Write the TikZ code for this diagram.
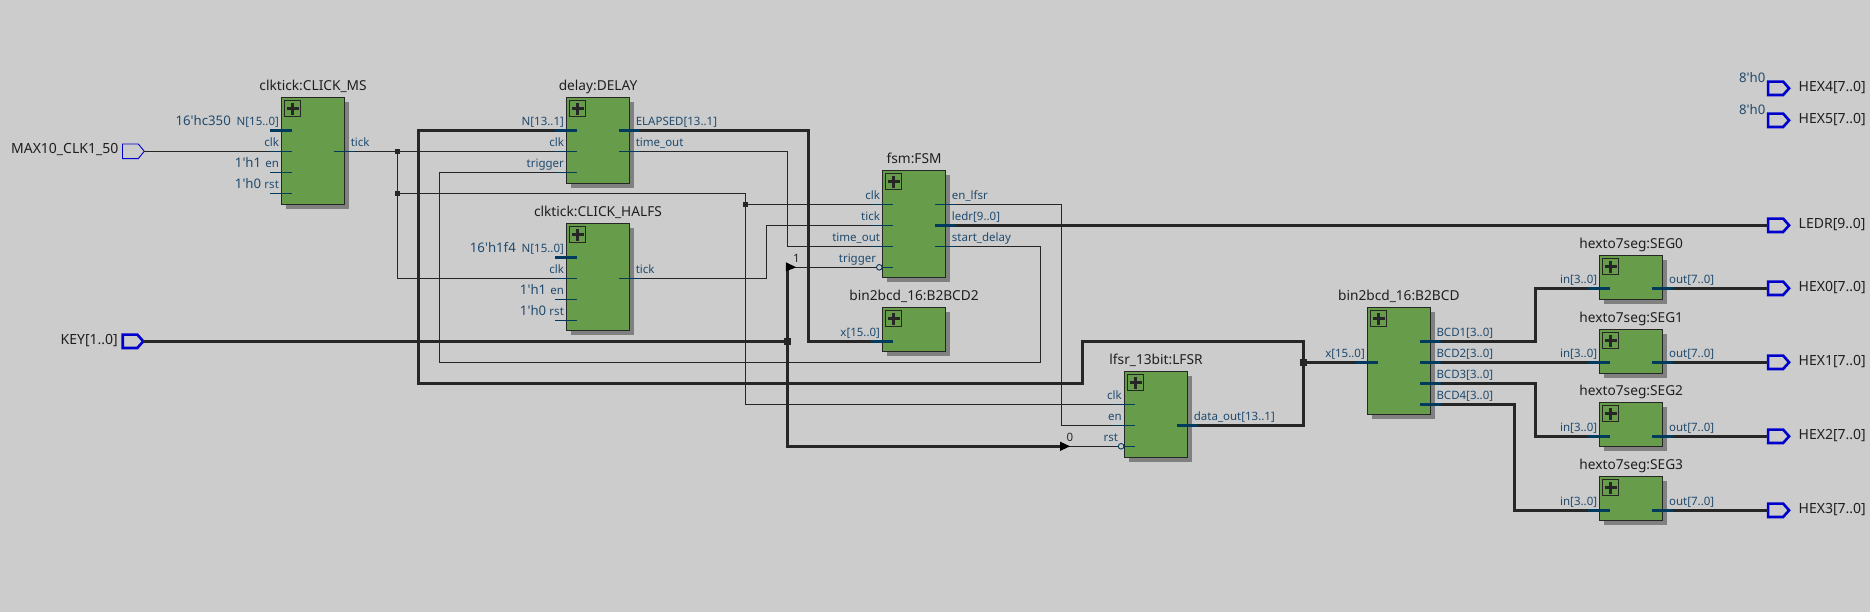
\documentclass[tikz,border=0pt]{standalone}
\usepackage{fontspec}
\newfontfamily\qf{Noto Sans}
\usetikzlibrary{calc}
\definecolor{bgc}{HTML}{CCCCCC}
\definecolor{grn}{HTML}{669C4A}
\definecolor{shd}{HTML}{808080}
\definecolor{wirec}{HTML}{262626}
\definecolor{pinc}{HTML}{003A5C}
\definecolor{labc}{HTML}{1F4A6E}
\definecolor{portc}{HTML}{0000CC}
\tikzset{
  x=1pt,y=-1pt,
  shadowbox/.style={fill=shd,draw=none},
  blockbox/.style={draw=wirec,line width=1pt,fill=grn,inner sep=0pt,outer sep=0pt,anchor=north west},
  iconbox/.style={draw=wirec,line width=1pt,minimum size=16pt,inner sep=0pt,outer sep=0pt},
  pluslines/.style={draw=wirec,line width=3pt},
  namelab/.style={font=\qf\fontsize{13.7}{15}\selectfont,text=black!88,inner sep=0pt,anchor=base},
  pinlab/.style={font=\qf\fontsize{11.5}{13}\selectfont,text=labc,inner sep=0pt},
  vallab/.style={font=\qf\fontsize{13.2}{15}\selectfont,text=labc,inner sep=0pt,anchor=base east},
  portlab/.style={font=\qf\fontsize{14}{16}\selectfont,text=black!88,inner sep=0pt},
  constlab/.style={font=\qf\fontsize{11.5}{13}\selectfont,text=black!85,inner sep=0pt,anchor=base},
  thinw/.style={draw=wirec,line width=0.9pt},
  thickw/.style={draw=wirec,line width=2.8pt},
  thinstub/.style={draw=pinc,line width=0.9pt},
  busstub/.style={draw=pinc,line width=2.8pt},
  bubble/.style={circle,draw=pinc,line width=0.9pt,fill=bgc,minimum size=5.6pt,inner sep=0pt,outer sep=0pt},
  jthin/.style={rectangle,fill=wirec,minimum size=5pt,inner sep=0pt},
  jthick/.style={rectangle,fill=wirec,minimum size=7pt,inner sep=0pt},
  portshape/.style={inner sep=0pt,outer sep=0pt},
  portthin/.style={draw=portc,line width=0.9pt,line join=miter},
  portthick/.style={draw=portc,line width=2.6pt,line join=miter},
}
% id, left, top, width, height, name
\newcommand{\blk}[6]{%
  \pgfmathsetmacro{\curL}{#2}\pgfmathsetmacro{\curR}{#2+#4}%
  \fill[shadowbox] (#2+4.4,#3+4.3) rectangle (#2+#4+4.4,#3+#5+4.3);
  \node[blockbox,minimum width=#4pt,minimum height=#5pt] (#1) at (#2,#3) {};
  \node[namelab] (#1-name) at (#2+#4/2,#3-7) {#6};
  \node[iconbox] (#1-icon) at (#2+11.2,#3+11.5) {};
  \draw[pluslines] ($(#1-icon.center)+(-6,0)$) -- ($(#1-icon.center)+(6,0)$);
  \draw[pluslines] ($(#1-icon.center)+(0,-6)$) -- ($(#1-icon.center)+(0,6)$);
}
% left pin: coordinate id, y, label, stub style
\newcommand{\pinl}[4]{%
  \coordinate (#1) at (\curL-11.2,#2);
  \draw[#4] (#1) -- ++(21.6,0);
  \node[pinlab,anchor=base east] (#1-lab) at (\curL-2.3,#2-4.7) {#3};
}
\newcommand{\pinr}[4]{%
  \coordinate (#1) at (\curR+10.5,#2);
  \draw[#4] (#1) -- ++(-21,0);
  \node[pinlab,anchor=base west] (#1-lab) at (\curR+6,#2-4.7) {#3};
}
% inverted left pin
\newcommand{\pinb}[3]{%
  \node[bubble] (#1) at (\curL-3.2,#2) {};
  \draw[thinstub] (#1.east) -- (\curL+10.4,#2);
  \node[pinlab,anchor=base east] (#1-lab) at (\curL-6.2,#2-4.7) {#3};
}
% output port: id, center y, label, style
\newcommand{\oport}[3]{%
  \node[portshape,minimum width=21pt,minimum height=13.4pt] (#1) at (1778.6,#2) {};
  \draw[portthick] (#1.north west) -- ($(#1.north east)+(-6,0)$) -- (#1.east) -- ($(#1.south east)+(-6,0)$) -- (#1.south west) -- cycle;
  \node[portlab,anchor=base west] (#1-lab) at (1798.5,#2+3) {#3};
}
\begin{document}
\begin{tikzpicture}
\useasboundingbox (0,0) rectangle (1870,612);
\fill[bgc] (0,0) rectangle (1870,612);

% blocks
\blk{ms}{281.4}{97.3}{63.2}{107}{clktick:CLICK\_MS}
\pinl{ms-n}{130.3}{N[15..0]}{busstub}
\pinl{ms-clk}{151.3}{clk}{thinstub}
\pinl{ms-en}{172.3}{en}{thinstub}
\pinl{ms-rst}{193.3}{rst}{thinstub}
\pinr{ms-tick}{151.3}{tick}{thinstub}
\node[vallab] (ms-vn) at (231,125.7) {16'hc350};
\node[vallab] (ms-ven) at (261.4,167.7) {1'h1};
\node[vallab] (ms-vrst) at (261.4,188.7) {1'h0};

\blk{dl}{566.4}{97.3}{63.2}{86}{delay:DELAY}
\pinl{dl-n}{130.3}{N[13..1]}{busstub}
\pinl{dl-clk}{151.3}{clk}{thinstub}
\pinl{dl-trig}{172.3}{trigger}{thinstub}
\pinr{dl-el}{130.3}{ELAPSED[13..1]}{busstub}
\pinr{dl-to}{151.3}{time\_out}{thinstub}

\blk{hf}{566.4}{223.3}{63.2}{107}{clktick:CLICK\_HALFS}
\pinl{hf-n}{257.3}{N[15..0]}{busstub}
\pinl{hf-clk}{278.3}{clk}{thinstub}
\pinl{hf-en}{299.3}{en}{thinstub}
\pinl{hf-rst}{320.3}{rst}{thinstub}
\pinr{hf-tick}{278.3}{tick}{thinstub}
\node[vallab] (hf-vn) at (516,252.7) {16'h1f4};
\node[vallab] (hf-ven) at (546.4,294.7) {1'h1};
\node[vallab] (hf-vrst) at (546.4,315.7) {1'h0};

\blk{fs}{882.5}{170.3}{63.2}{107}{fsm:FSM}
\pinl{fs-clk}{204.3}{clk}{thinstub}
\pinl{fs-tick}{225.3}{tick}{thinstub}
\pinl{fs-to}{246.3}{time\_out}{thinstub}
\pinb{fs-trig}{267.3}{trigger}
\pinr{fs-en}{204.3}{en\_lfsr}{thinstub}
\pinr{fs-ledr}{225.3}{ledr[9..0]}{busstub}
\pinr{fs-sd}{246.3}{start\_delay}{thinstub}

\blk{bb}{882.5}{307.3}{63.2}{44}{bin2bcd\_16:B2BCD2}
\pinl{bb-x}{341.3}{x[15..0]}{busstub}

\blk{lf}{1124.3}{371.3}{63.4}{86}{lfsr\_13bit:LFSR}
\pinl{lf-clk}{404.3}{clk}{thinstub}
\pinl{lf-en}{425.3}{en}{thinstub}
\pinb{lf-rst}{446.3}{rst}
\pinr{lf-do}{425.3}{data\_out[13..1]}{busstub}

\blk{bc}{1367.3}{307.3}{63}{107}{bin2bcd\_16:B2BCD}
\pinl{bc-x}{362.3}{x[15..0]}{busstub}
\pinr{bc-1}{341.3}{BCD1[3..0]}{busstub}
\pinr{bc-2}{362.3}{BCD2[3..0]}{busstub}
\pinr{bc-3}{383.3}{BCD3[3..0]}{busstub}
\pinr{bc-4}{404.3}{BCD4[3..0]}{busstub}

\blk{s0}{1599.6}{255.3}{63.3}{44}{hexto7seg:SEG0}
\pinl{s0-in}{288.3}{in[3..0]}{busstub}
\pinr{s0-out}{288.3}{out[7..0]}{busstub}
\blk{s1}{1599.6}{329.3}{63.3}{44}{hexto7seg:SEG1}
\pinl{s1-in}{362.3}{in[3..0]}{busstub}
\pinr{s1-out}{362.3}{out[7..0]}{busstub}
\blk{s2}{1599.6}{402.3}{63.3}{44}{hexto7seg:SEG2}
\pinl{s2-in}{436.3}{in[3..0]}{busstub}
\pinr{s2-out}{436.3}{out[7..0]}{busstub}
\blk{s3}{1599.6}{476.3}{63.3}{44}{hexto7seg:SEG3}
\pinl{s3-in}{510.3}{in[3..0]}{busstub}
\pinr{s3-out}{510.3}{out[7..0]}{busstub}

% ports
\node[portshape,minimum width=21.8pt,minimum height=14.6pt] (clkp) at (133.4,151.3) {};
\draw[portthin] (clkp.north west) -- ($(clkp.north east)+(-6,0)$) -- (clkp.east) -- ($(clkp.south east)+(-6,0)$) -- (clkp.south west) -- cycle;
\node[portlab,anchor=base east] (clkp-lab) at (118.5,154) {MAX10\_CLK1\_50};
\node[portshape,minimum width=20.6pt,minimum height=13.4pt] (keyp) at (133,341.3) {};
\draw[portthick] (keyp.north west) -- ($(keyp.north east)+(-6,0)$) -- (keyp.east) -- ($(keyp.south east)+(-6,0)$) -- (keyp.south west) -- cycle;
\node[portlab,anchor=base east] (keyp-lab) at (118,344) {KEY[1..0]};

\oport{h4}{88.3}{HEX4[7..0]}
\oport{h5}{120.3}{HEX5[7..0]}
\oport{ledr}{225.3}{LEDR[9..0]}
\oport{h0}{288.3}{HEX0[7..0]}
\oport{h1}{362.3}{HEX1[7..0]}
\oport{h2}{436.3}{HEX2[7..0]}
\oport{h3}{510.3}{HEX3[7..0]}
\node[vallab] (h4-v) at (1765.5,82.3) {8'h0};
\node[vallab] (h5-v) at (1765.5,114.3) {8'h0};

% routing helpers
\coordinate (vel) at (808.6,0);
\coordinate (vto) at (787.3,151.3);
\coordinate (vtk) at (766.4,0);
\coordinate (ven) at (1061.8,0);
\coordinate (vsd) at (1040.7,362.3);
\coordinate (vtr) at (439.3,362.3);
\coordinate (b1) at (1303.7,341.3);
\coordinate (b2) at (1082.3,341.3);
\coordinate (b3) at (1082.3,383.3);
\coordinate (b4) at (418.2,383.3);
\coordinate (v3) at (1535.6,0);
\coordinate (v4) at (1514.5,0);

% junctions
\node[jthin] (j1) at (397.5,151.3) {};
\node[jthin] (j2) at (397.5,193.3) {};
\node[jthin] (j3) at (745.7,204.3) {};
\node[jthick] (j4) at (1303.7,362.3) {};
\node[jthick] (j5) at (787.3,341.3) {};

% constant drivers
\coordinate (a1) at (787.3,267.3);
\coordinate (a0) at (1060,446.3);
\node[constlab] (c1) at (796.5,262.3) {1};
\node[constlab] (c0) at (1070,441.3) {0};

% thin wires
\draw[thinw] (clkp.east) -- (ms-clk);
\draw[thinw] (ms-tick) -- (j1.center) -- (dl-clk);
\draw[thinw] (j1.center) -- (j2.center) |- (hf-clk);
\draw[thinw] (j2.center) -- (j2 -| j3) -- (j3.center) -- (fs-clk);
\draw[thinw] (j3.center) |- (lf-clk);
\draw[thinw] (dl-to) -- (vto) |- (fs-to);
\draw[thinw] (hf-tick) -- (hf-tick -| vtk) -- (fs-tick -| vtk) -- (fs-tick);
\draw[thinw] (fs-en) -- (fs-en -| ven) -- (lf-en -| ven) -- (lf-en);
\draw[thinw] (fs-sd) -| (vsd) -- (vtr) |- (dl-trig);
\draw[thinw] (a1) -- (fs-trig.west);
\draw[thinw] (a0) -- (lf-rst.west);

% thick wires
\draw[thickw,line join=miter] (dl-el) -- (dl-el -| vel) -- (bb-x -| vel) -- (bb-x);
\draw[thickw,line join=miter] (lf-do) -| (b1) -- (b2) -- (b3) -- (b4) |- (dl-n);
\draw[thickw] (j4.center) -- (bc-x);
\draw[thickw] (keyp.east) -- (j5.center);
\draw[thickw,line join=miter] (a1) -- (j5.center) |- (a0);
\draw[thickw] (fs-ledr) -- (ledr.west);
\draw[thickw,line join=miter] (bc-1) -- (bc-1 -| v3) -- (s0-in -| v3) -- (s0-in);
\draw[thickw] (bc-2) -- (s1-in);
\draw[thickw,line join=miter] (bc-3) -- (bc-3 -| v3) -- (s2-in -| v3) -- (s2-in);
\draw[thickw,line join=miter] (bc-4) -- (bc-4 -| v4) -- (s3-in -| v4) -- (s3-in);
\draw[thickw] (s0-out) -- (h0.west);
\draw[thickw] (s1-out) -- (h1.west);
\draw[thickw] (s2-out) -- (h2.west);
\draw[thickw] (s3-out) -- (h3.west);

% triangles
\fill[black] ($(a1)+(-1.4,-5)$) -- ($(a1)+(9,0)$) -- ($(a1)+(-1.4,4)$) -- cycle;
\fill[black] (a0) ++(0,-4.7) -- ++(10,4.7) -- ++(-10,4.7) -- cycle;
\end{tikzpicture}
\end{document}
